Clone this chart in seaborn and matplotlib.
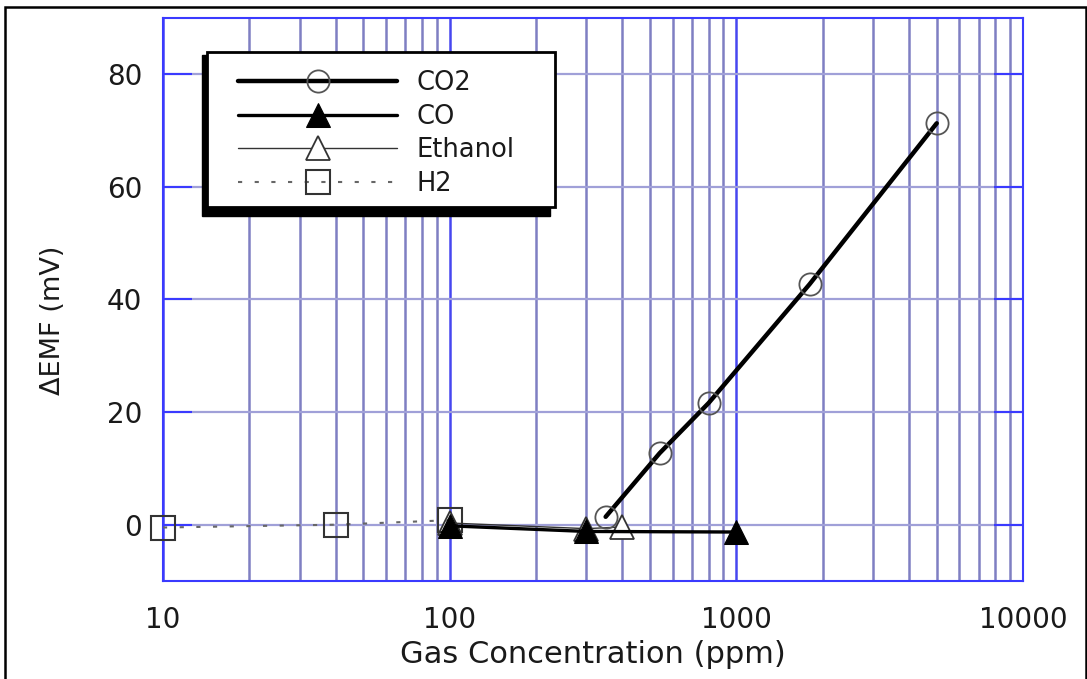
import numpy as np
import pandas as pd
import matplotlib
matplotlib.use("Agg")
import matplotlib.pyplot as plt
import seaborn as sns
from matplotlib.patches import Rectangle
from matplotlib.ticker import LogLocator, FixedLocator, FuncFormatter, NullFormatter
from matplotlib.transforms import IdentityTransform

# ---- data ----
co2_x = [350, 540, 800, 1800, 5000]
co2_y = [1.4, 12.7, 21.6, 42.7, 71.3]
co_x = [100, 300, 1000]
co_y = [-0.2, -1.2, -1.3]
eth_x = [100, 300, 400]
eth_y = [0.3, -0.7, -0.4]
h2_x = [10, 40, 100]
h2_y = [-0.5, 0.0, 0.8]

x_ticks = [10, 100, 1000, 10000]
y_ticks = [0, 20, 40, 60, 80]
series_names = ["CO2", "CO", "Ethanol", "H2"]

sns.set_style("white")
plt.rcParams["font.family"] = ["DejaVu Sans"]

W, H = 1087, 679
fig = plt.figure(figsize=(W / 100, H / 100), dpi=100)
L, R, T, B = 163, 1023, 18, 581
ax = fig.add_axes([L / W, 1 - B / H, (R - L) / W, (B - T) / H])

ax.set_xscale("log")
ax.set_xlim(10, 10000)
ax.set_ylim(-10, 90)

# grid
ax.xaxis.set_major_locator(FixedLocator(x_ticks))
ax.xaxis.set_minor_locator(LogLocator(base=10, subs=np.arange(2, 10)))
ax.xaxis.set_major_formatter(FuncFormatter(lambda v, p: f"{int(v)}"))
ax.xaxis.set_minor_formatter(NullFormatter())
ax.yaxis.set_major_locator(FixedLocator(y_ticks))
ax.xaxis.grid(True, which="minor", color="#7f7fc2", lw=1.8)
ax.xaxis.grid(True, which="major", color="#4646f0", lw=1.8)
ax.yaxis.grid(True, which="major", color="#a0a0d8", lw=1.6)
ax.set_axisbelow(True)

for s in ax.spines.values():
    s.set_visible(True)
    s.set_color("#3a3aff")
    s.set_linewidth(1.5)

ax.tick_params(axis="x", which="both", length=0, pad=18, labelsize=20, labelcolor="#1a1a1a")
ax.tick_params(axis="y", which="major", direction="in", length=21, width=1.5,
               color="#3a3aff", left=True, right=True, pad=15, labelsize=20,
               labelcolor="#1a1a1a")

# series
sns.lineplot(x=co2_x, y=co2_y, ax=ax, color="black", lw=3.2, marker="o",
             markersize=16, markerfacecolor="none", markeredgecolor="#555555",
             markeredgewidth=1.3, label=series_names[0], zorder=4, clip_on=False)
sns.lineplot(x=co_x, y=co_y, ax=ax, color="black", lw=2.4, marker="^",
             markersize=17, markerfacecolor="black", markeredgecolor="black",
             label=series_names[1], zorder=5, clip_on=False)
sns.lineplot(x=eth_x, y=eth_y, ax=ax, color="#333333", lw=1.0, marker="^",
             markersize=17, markerfacecolor="white", markeredgecolor="#333333",
             markeredgewidth=1.3, label=series_names[2], zorder=3, clip_on=False)
sns.lineplot(x=h2_x, y=h2_y, ax=ax, color="#666666", lw=1.5, ls=(0, (2, 6)),
             marker="s", markersize=17, markerfacecolor="none",
             markeredgecolor="#333333", markeredgewidth=1.5,
             label=series_names[3], zorder=3, clip_on=False)

ax.set_xlabel("Gas Concentration (ppm)", fontsize=22, color="#1a1a1a", labelpad=4)
ax.set_ylabel("ΔEMF (mV)", fontsize=19.5, color="#1a1a1a")
ax.yaxis.set_label_coords((66 - L) / (R - L), (B - 320) / (B - T))


def ax_frac(px, py):
    return ((px - L) / (R - L), (B - py) / (B - T))


# legend box with offset shadow (pixel coordinates of the reference)
bx0, by0, bx1, by1 = 207, 52, 555, 207
shadow = Rectangle((bx0 - 5, H - by1 - 9), bx1 - bx0, by1 - by0 + 6,
                   transform=IdentityTransform(), facecolor="black",
                   edgecolor="black", zorder=5.5, clip_on=False)
box = Rectangle((bx0, H - by1), bx1 - bx0, by1 - by0,
                transform=IdentityTransform(), facecolor="white",
                edgecolor="black", lw=2.0, zorder=5.6, clip_on=False)
ax.add_patch(shadow)
ax.add_patch(box)

leg = ax.legend(loc="upper left", bbox_to_anchor=ax_frac(238, 70),
                borderaxespad=0, frameon=False, fontsize=18.5,
                handlelength=6.2, handletextpad=0.75, labelspacing=0.3,
                borderpad=0, numpoints=1)
leg.set_zorder(6)
for t in leg.get_texts():
    t.set_color("#1a1a1a")

# figure border
fig.add_artist(Rectangle((5 / W, -0.05), (W - 6) / W, 1.05 - 7 / H,
                         transform=fig.transFigure, fill=False,
                         edgecolor="black", lw=1.8))

fig.savefig("out.png", dpi=100)
